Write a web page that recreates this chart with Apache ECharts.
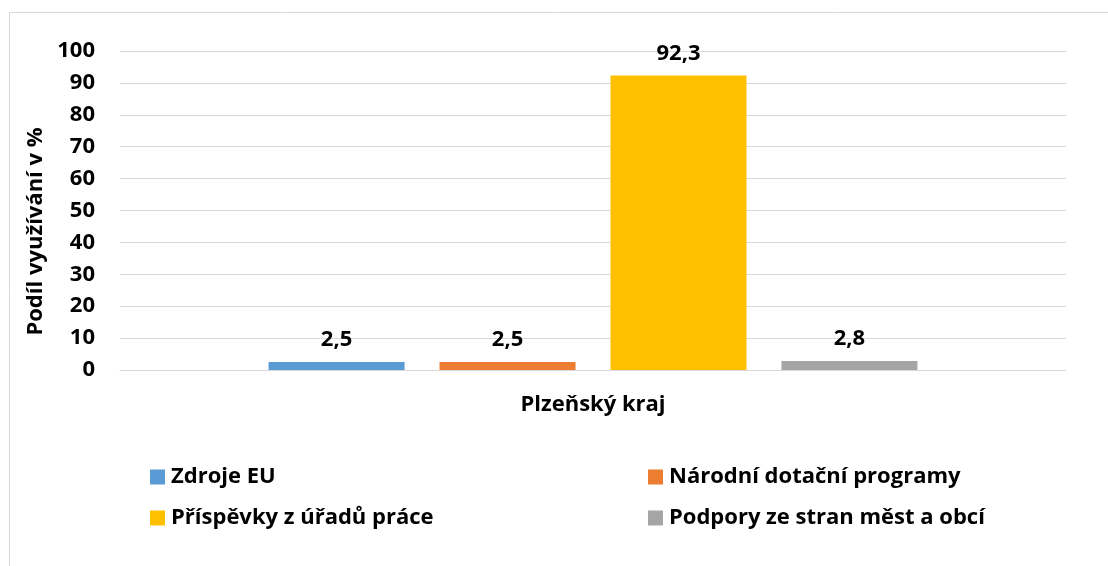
<!DOCTYPE html>
<html>
<head>
<meta charset="utf-8">
<script src="https://cdn.jsdelivr.net/npm/echarts@6/dist/echarts.min.js"></script>
<style>
  html, body { margin: 0; padding: 0; background: #fff; }
  #chart { width: 1108px; height: 566px; }
</style>
</head>
<body>
<div id="chart"></div>
<script>
const categories = ['Plzeňský kraj']
const seriesNames = ['Zdroje EU', 'Národní dotační programy', 'Příspěvky z úřadů práce', 'Podpory ze stran měst a obcí']
const seriesValues = [[2.5], [2.5], [92.3], [2.8]]
const colors = ['#5b9bd5', '#ed7d31', '#ffc000', '#a5a5a5']
const yTicks = { min: 0, max: 100, step: 10 }

const font = '"Open Sans", sans-serif'
const fontSize = 22
const chart = echarts.init(document.getElementById('chart'))

const legendText = {
  color: '#000',
  fontFamily: font,
  fontWeight: 'bold',
  fontSize: fontSize,
  lineHeight: 20,
  padding: [0, 0, 0, 1]
}

chart.setOption({
  color: colors,
  animation: false,
  graphic: [{
    type: 'rect',
    shape: { x: 9.5, y: 12.5, width: 1200, height: 700 },
    style: { fill: 'none', stroke: '#d9d9d9', lineWidth: 1 },
    silent: true
  }],
  grid: { left: 120, right: 42, top: 51, bottom: 196 },
  legend: [
    {
      data: [seriesNames[0], seriesNames[2]],
      orient: 'vertical',
      left: 145,
      top: 461,
      itemWidth: 15,
      itemHeight: 15,
      itemGap: 19,
      icon: 'rect',
      selectedMode: false,
      textStyle: legendText
    },
    {
      data: [seriesNames[1], seriesNames[3]],
      orient: 'vertical',
      left: 643,
      top: 461,
      itemWidth: 15,
      itemHeight: 15,
      itemGap: 19,
      icon: 'rect',
      selectedMode: false,
      textStyle: legendText
    }
  ],
  xAxis: {
    type: 'category',
    data: categories,
    axisLine: { lineStyle: { color: '#d9d9d9', width: 1 } },
    axisTick: { show: false },
    axisLabel: {
      margin: 24,
      color: '#000',
      fontFamily: font,
      fontWeight: 'bold',
      fontSize: fontSize
    }
  },
  yAxis: {
    type: 'value',
    min: yTicks.min,
    max: yTicks.max,
    interval: yTicks.step,
    name: 'Podíl využívání v %',
    nameLocation: 'middle',
    nameGap: 65,
    nameTextStyle: {
      color: '#000',
      fontFamily: font,
      fontWeight: 'bold',
      fontSize: fontSize,
      padding: [0, 42, 0, 0]
    },
    axisLine: { show: false },
    axisTick: { show: false },
    splitLine: { lineStyle: { color: '#d9d9d9', width: 1 } },
    axisLabel: {
      margin: 25,
      color: '#000',
      fontFamily: font,
      fontWeight: 'bold',
      fontSize: fontSize
    }
  },
  series: seriesNames.map((name, i) => ({
    name,
    type: 'bar',
    data: seriesValues[i],
    barWidth: 136,
    barGap: '25.7%',
    label: {
      show: true,
      position: 'top',
      distance: 11,
      color: '#000',
      fontFamily: font,
      fontWeight: 'bold',
      fontSize: fontSize,
      formatter: (p) => String(p.value).replace('.', ',')
    }
  }))
})
</script>
</body>
</html>
